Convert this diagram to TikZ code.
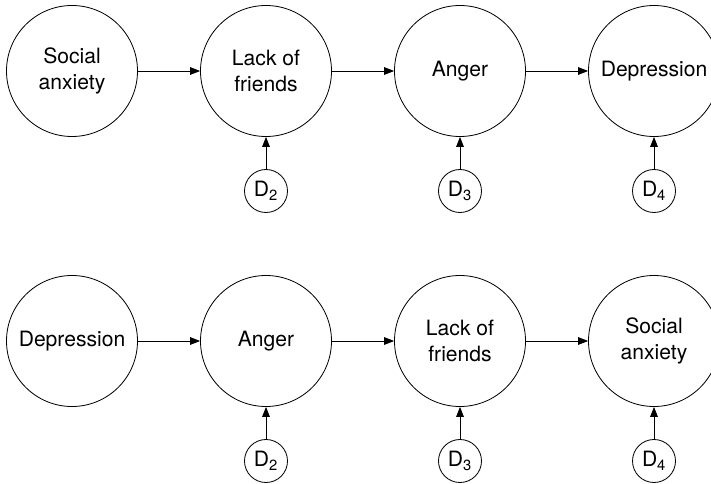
\documentclass[tikz,border=0pt]{standalone}
\usepackage{fontspec}
\setmainfont{TeX Gyre Heros}
\usetikzlibrary{arrows.meta}
\begin{document}
\begin{tikzpicture}[x=0.03cm, y=-0.03cm, line width=0.7pt,
        >={Triangle[length=8.5pt, width=6.5pt]},
        big/.style={draw, circle, minimum size=3.93cm, inner sep=0pt, align=center, font=\fontsize{18}{21.5}\selectfont},
        err/.style={draw, circle, minimum size=1.29cm, inner sep=0pt, font=\fontsize{18}{21.5}\selectfont}]
            \useasboundingbox (0, 0) rectangle (711, 484);
            % first ordering
            \node[big] (anx1) at (72, 71) {Social\\anxiety};
            \node[big] (frd1) at (266, 71) {Lack of\\friends};
            \node[big] (ang1) at (460, 71) {Anger};
            \node[big] (dep1) at (654, 71) {Depression};
            \node[err] (d21) at (266, 191) {D\textsubscript{2}};
            \node[err] (d31) at (460, 191) {D\textsubscript{3}};
            \node[err] (d41) at (654, 191) {D\textsubscript{4}};
            \draw[->] (anx1) -- (frd1);
            \draw[->] (frd1) -- (ang1);
            \draw[->] (ang1) -- (dep1);
            \draw[->] (d21) -- (frd1);
            \draw[->] (d31) -- (ang1);
            \draw[->] (d41) -- (dep1);
            % reversed ordering
            \node[big] (dep2) at (72, 341) {Depression};
            \node[big] (ang2) at (266, 341) {Anger};
            \node[big] (frd2) at (460, 341) {Lack of\\friends};
            \node[big] (anx2) at (654, 341) {Social\\anxiety};
            \node[err] (d22) at (266, 461) {D\textsubscript{2}};
            \node[err] (d32) at (460, 461) {D\textsubscript{3}};
            \node[err] (d42) at (654, 461) {D\textsubscript{4}};
            \draw[->] (dep2) -- (ang2);
            \draw[->] (ang2) -- (frd2);
            \draw[->] (frd2) -- (anx2);
            \draw[->] (d22) -- (ang2);
            \draw[->] (d32) -- (frd2);
            \draw[->] (d42) -- (anx2);
\end{tikzpicture}
\end{document}
